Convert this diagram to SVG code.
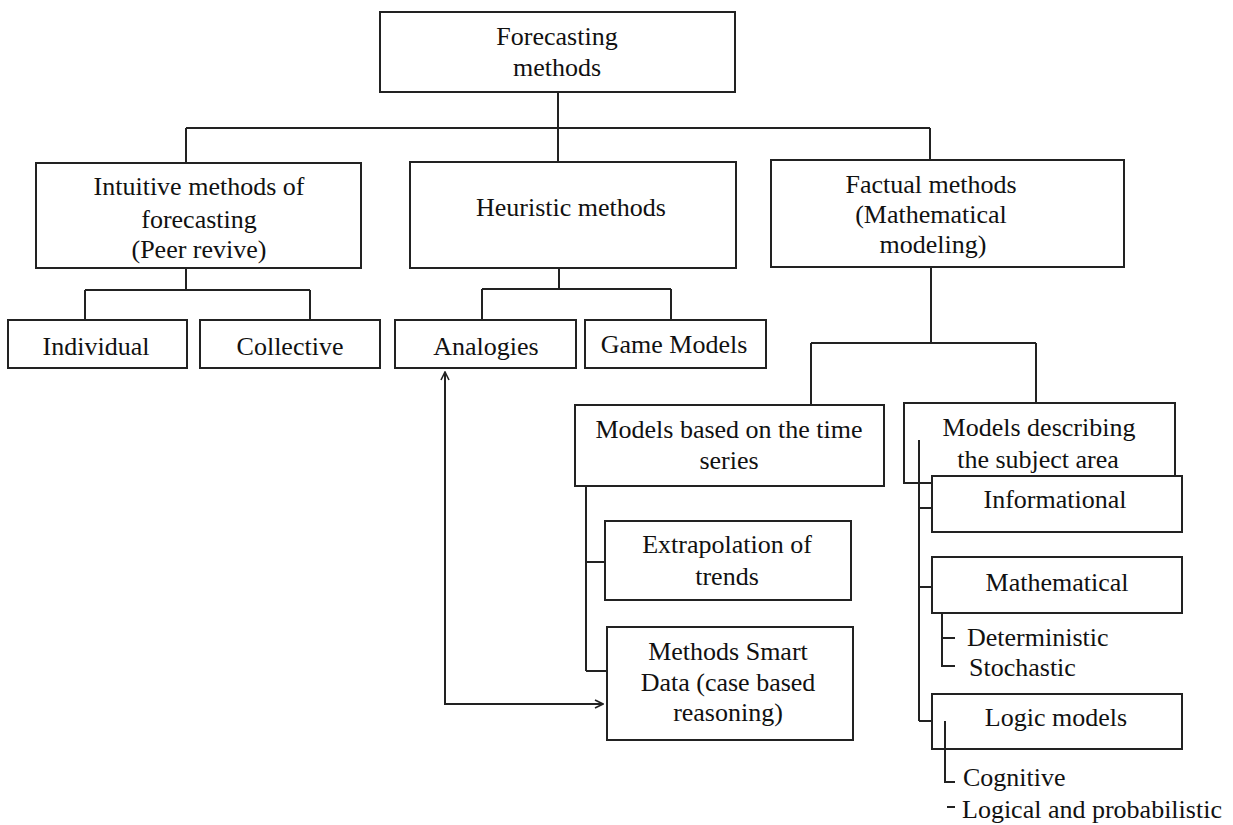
<svg xmlns="http://www.w3.org/2000/svg" width="1233" height="825" viewBox="0 0 1233 825">
<defs>
<style>
.box{fill:#fff;stroke:#222;stroke-width:2}
.ln{fill:none;stroke:#222;stroke-width:2}
text{font-family:"Liberation Serif","Times New Roman",serif;font-size:26px;fill:#111}
.c{text-anchor:middle}
</style>
<marker id="ah" viewBox="0 0 10 10" refX="9" refY="5" markerWidth="10" markerHeight="10" markerUnits="userSpaceOnUse" orient="auto-start-reverse">
<path d="M1,1 L9,5 L1,9" fill="none" stroke="#222" stroke-width="1.6"/>
</marker>
</defs>
<rect width="1233" height="825" fill="#fff"/>
<g id="n-forecasting"><rect class="box" x="380" y="12" width="355" height="80"/>
<text class="c" x="557" y="45">Forecasting</text><text class="c" x="557" y="76">methods</text></g>
<g id="n-intuitive"><rect class="box" x="36" y="163" width="325" height="105"/>
<text class="c" x="199" y="195">Intuitive methods of</text><text class="c" x="199" y="228">forecasting</text><text class="c" x="199" y="258">(Peer revive)</text></g>
<g id="n-heuristic"><rect class="box" x="410" y="162" width="326" height="106"/>
<text class="c" x="571" y="216">Heuristic methods</text></g>
<g id="n-factual"><rect class="box" x="771" y="160" width="353" height="107"/>
<text class="c" x="931" y="193">Factual methods</text><text class="c" x="931" y="223">(Mathematical</text><text class="c" x="933" y="253">modeling)</text></g>
<g id="n-individual"><rect class="box" x="8" y="320" width="179" height="48"/>
<text class="c" x="96" y="355">Individual</text></g>
<g id="n-collective"><rect class="box" x="200" y="320" width="180" height="48"/>
<text class="c" x="290" y="355">Collective</text></g>
<g id="n-analogies"><rect class="box" x="395" y="320" width="181" height="48"/>
<text class="c" x="486" y="355">Analogies</text></g>
<g id="n-game"><rect class="box" x="585" y="320" width="181" height="48"/>
<text class="c" x="674" y="353">Game Models</text></g>
<g id="n-timeseries"><rect class="box" x="575" y="405" width="309" height="81"/>
<text class="c" x="729" y="438">Models based on the time</text><text class="c" x="729" y="469">series</text></g>
<g id="n-subject"><rect class="box" x="904" y="403" width="271" height="80"/>
<text class="c" x="1039" y="436">Models describing</text><text class="c" x="1038" y="468">the subject area</text></g>
<g id="n-extrapolation"><rect class="box" x="605" y="521" width="246" height="79"/>
<text class="c" x="727" y="553">Extrapolation of</text><text class="c" x="727" y="585">trends</text></g>
<g id="n-smartdata"><rect class="box" x="607" y="627" width="246" height="113"/>
<text class="c" x="728" y="660">Methods Smart</text><text class="c" x="728" y="691">Data (case based</text><text class="c" x="728" y="721">reasoning)</text></g>
<g id="n-informational"><rect class="box" x="932" y="476" width="250" height="56"/>
<text class="c" x="1055" y="508">Informational</text></g>
<g id="n-mathematical"><rect class="box" x="932" y="557" width="250" height="56"/>
<text class="c" x="1057" y="591">Mathematical</text></g>
<g id="n-logic"><rect class="box" x="932" y="694" width="250" height="55"/>
<text class="c" x="1056" y="726">Logic models</text></g>
<g id="n-deterministic"><text x="967" y="646">Deterministic</text></g>
<g id="n-stochastic"><text x="969" y="676">Stochastic</text></g>
<g id="n-cognitive"><text x="963" y="786">Cognitive</text></g>
<g id="n-logprob"><text x="962" y="818">Logical and probabilistic</text></g>
<g id="connectors">
<path class="ln" d="M558,92 V162 M186,128 H930 M186,128 V163 M930,128 V160"/>
<path class="ln" d="M186,268 V290 M85,290 H310 M85,290 V320 M310,290 V320"/>
<path class="ln" d="M559,268 V289 M482,289 H671 M482,289 V320 M671,289 V320"/>
<path class="ln" d="M931,267 V343 M811,343 H1036 M811,343 V405 M1036,343 V403"/>
<path class="ln" d="M586,486 V671 M586,562 H605 M586,671 H607"/>
<path class="ln" d="M445,372 V704 H603" marker-start="url(#ah)" marker-end="url(#ah)"/>
<path class="ln" d="M919,440 V721 M919,508 H932 M919,587 H932 M919,721 H932"/>
<path class="ln" d="M942,613 V666 H955 M942,638 H955"/>
<path class="ln" d="M945,721 V782 H955 M947,807 H955"/>
</g>
</svg>
